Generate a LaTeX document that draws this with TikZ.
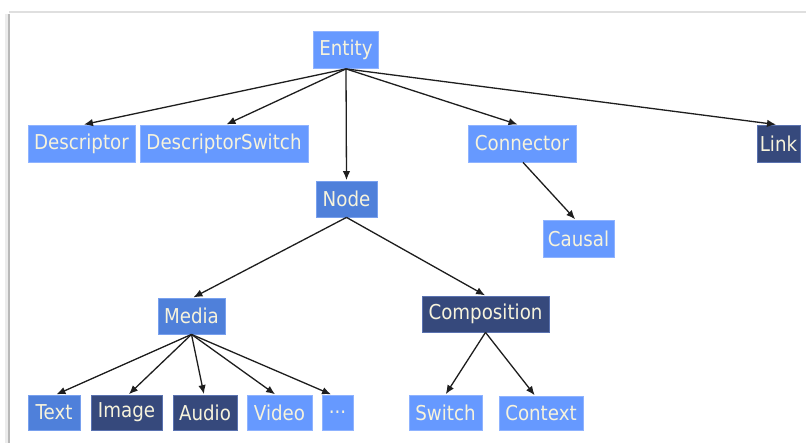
\documentclass[tikz,border=0pt]{standalone}
\usepackage{fontspec}
\setmainfont[FakeStretch=0.89]{DejaVu Sans}
\usetikzlibrary{arrows.meta}
\definecolor{lightbox}{HTML}{6699FF}
\definecolor{lightedge}{HTML}{8FB3FF}
\definecolor{midbox}{HTML}{4F80DA}
\definecolor{midedge}{HTML}{78A0EE}
\definecolor{darkbox}{HTML}{36497C}
\definecolor{darkedge}{HTML}{5A72B0}
\definecolor{labeltext}{HTML}{F7F3DC}
\definecolor{arrowcol}{HTML}{1E1E1E}
\tikzset{
  box/.style={inner sep=0pt, minimum height=37pt, text=labeltext,
    font=\fontsize{20.5pt}{24pt}\selectfont, line width=0.8pt},
  lightnode/.style={box, fill=lightbox, draw=lightedge},
  midnode/.style={box, fill=midbox, draw=midedge},
  darknode/.style={box, fill=darkbox, draw=darkedge},
  conn/.style={draw=arrowcol, line width=1.3pt,
    -{Latex[length=9pt,width=7.5pt]}, shorten >=0.5pt}
}
\begin{document}
\begin{tikzpicture}[x=1pt,y=-1pt]
\useasboundingbox (0,0) rectangle (806,443);
% frame with shadow
\fill[white] (0,0) rectangle (806,443);
\draw[gray!15, line width=3pt] (6,14) -- (6,443);
\draw[gray!55, line width=2.5pt] (9,14) -- (9,443);
\draw[gray!25, line width=1.5pt] (9,12) -- (806,12);
% nodes
\node[lightnode, minimum width=65pt] (entity) at (346,50) {Entity};
\node[lightnode, minimum width=107pt] (desc) at (81.5,143.5) {Descriptor};
\node[lightnode, minimum width=168pt] (dswitch) at (224,143.5) {DescriptorSwitch};
\node[lightnode, minimum width=108pt] (connector) at (522,143.5) {Connector};
\node[darknode, minimum width=43pt] (link) at (778.5,143.5) {Link};
\node[midnode, minimum width=61pt, minimum height=36pt] (node) at (346.5,199) {Node};
\node[lightnode, minimum width=71pt] (causal) at (578.5,238.5) {Causal};
\node[midnode, minimum width=67pt, minimum height=36pt] (media) at (191.5,316) {Media};
\node[darknode, minimum width=127pt, minimum height=36pt] (comp) at (485.5,314) {Composition};
\node[midnode, minimum width=52pt, minimum height=35pt] (text) at (54,412.5) {Text};
\node[darknode, minimum width=71pt, minimum height=35pt] (image) at (126.5,412.5) {Image};
\node[darknode, minimum width=64pt, minimum height=35pt] (audio) at (205,412.5) {Audio};
\node[lightnode, minimum width=65pt, minimum height=35pt] (video) at (279.5,412.5) {Video};
\node[lightnode, minimum width=31pt, minimum height=35pt] (dots) at (337.5,412.5) {...};
\node[lightnode, minimum width=73pt, minimum height=35pt] (switch) at (445.5,412.5) {Switch};
\node[lightnode, minimum width=84pt, minimum height=34pt] (context) at (541,413) {Context};
% connectors
\draw[conn] (entity.south) -- ([xshift=2pt]desc.north);
\draw[conn] (entity.south) -- ([xshift=2pt]dswitch.north);
\draw[conn] (entity.south) -- (node.north);
\draw[conn] (entity.south) -- ([xshift=-4pt]connector.north);
\draw[conn] (entity.south) -- ([xshift=-2pt]link.north);
\draw[conn] ([xshift=1pt]connector.south) -- ([xshift=-3pt]causal.north);
\draw[conn] (node.south) -- ([xshift=1.5pt]media.north);
\draw[conn] (node.south) -- (comp.north);
\draw[conn] (media.south) -- ([xshift=2pt]text.north);
\draw[conn] (media.south) -- ([xshift=2pt]image.north);
\draw[conn] (media.south) -- ([xshift=-1pt]audio.north);
\draw[conn] (media.south) -- ([xshift=-4pt]video.north);
\draw[conn] (media.south) -- ([xshift=-6pt]dots.north);
\draw[conn] (comp.south) -- (switch.north);
\draw[conn] (comp.south) -- ([xshift=-6pt]context.north);
\end{tikzpicture}
\end{document}
